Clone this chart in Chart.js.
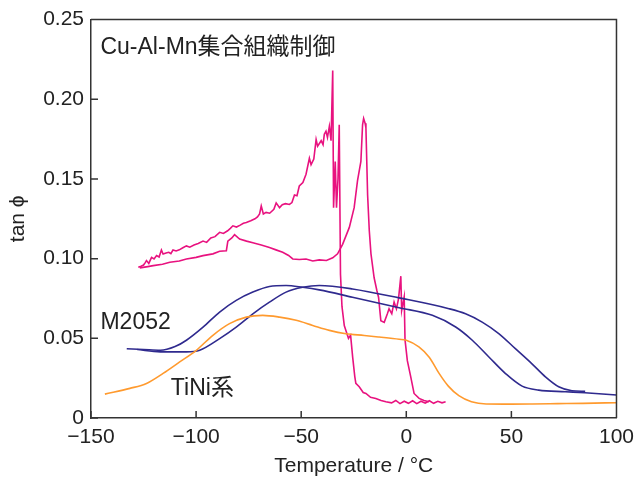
<!DOCTYPE html>
<html>
<head>
<meta charset="utf-8">
<script src="https://cdn.jsdelivr.net/npm/chart.js@4.4.1/dist/chart.umd.min.js"></script>
<style>
  body { margin: 0; background: #fff; }
  canvas { display: block; }
</style>
</head>
<body>
<canvas id="chart" width="641" height="481"></canvas>
<script>
// axes
const xTicks = [-150, -100, -50, 0, 50, 100];
const yTicks = [0, 0.05, 0.10, 0.15, 0.20, 0.25];

// TiNi系 (orange)
const tiniT = [-143.4, -131.5, -123.6, -115.7, -107.8, -99.9, -92, -84.1, -76.1, -68.3, -60.3, -52.4, -44.5, -36.6, -28.7, -20, -12.9, -3.4, 0, 6, 11, 15.6, 20, 25, 31, 38, 50, 60, 72, 84, 100];
const tiniV = [0.015, 0.0186, 0.0217, 0.028, 0.0352, 0.0425, 0.0519, 0.0592, 0.0633, 0.0644, 0.0633, 0.0613, 0.0581, 0.055, 0.0529, 0.0518, 0.0508, 0.0494, 0.0488, 0.0446, 0.038, 0.028, 0.02, 0.014, 0.0102, 0.0088, 0.0087, 0.0088, 0.009, 0.0092, 0.0096];

// M2052 (blue), two branches of the loop
const m2052aT = [-133, -125, -117, -110, -104.6, -96.7, -88.8, -80.9, -73, -65.1, -57.2, -49.3, -41.4, -25.6, -3.4, 12.4, 23.5, 31.4, 39.3, 47.2, 55.1, 63, 75.7, 85, 100];
const m2052aV = [0.0435, 0.043, 0.0425, 0.0448, 0.0488, 0.057, 0.0665, 0.0738, 0.079, 0.0825, 0.0831, 0.082, 0.0804, 0.0758, 0.0692, 0.0644, 0.0571, 0.0488, 0.0383, 0.0279, 0.02, 0.0175, 0.0165, 0.0158, 0.0144];
const m2052bT = [-128, -117, -104.6, -98.3, -88.8, -80.9, -73, -65.1, -57.2, -49.3, -41.4, -25.6, -3.4, 20.3, 28.2, 36.1, 44, 51.9, 59.8, 66.2, 72.5, 78.8, 85.1];
const m2052bV = [0.043, 0.0415, 0.0415, 0.0425, 0.0498, 0.057, 0.0654, 0.0727, 0.079, 0.082, 0.0831, 0.081, 0.0754, 0.0686, 0.0654, 0.0602, 0.053, 0.0435, 0.034, 0.0258, 0.0196, 0.0171, 0.0167];

// Cu-Al-Mn (pink), upper noisy branch
const cuUpT = [-127.5, -126.2, -125, -124.2, -123.6, -122.5, -121.2, -120, -118.8, -117.6, -116.5, -115.7, -114.3, -113, -112, -111, -109.5, -108, -106.3, -104.6, -103, -101, -99, -96.7, -95, -93, -91, -88.8, -87, -85, -83.7, -82.5, -80.8, -79, -77.5, -76.1, -74, -72, -70.8, -69.8, -69, -68, -66.7, -65, -63, -61.9, -60.3, -59, -57.5, -55.6, -54.4, -53.2, -52, -50.9, -49.2, -47.7, -46.1, -45.3, -44, -42.9, -42.2, -40.5, -39.6, -39, -38.2, -37.5, -36.6, -35.8, -35, -34.6, -33.8, -33.2, -32.5, -31.9, -31.3, -30.6, -29.5, -28.5, -27.5, -26.5, -25.5, -24.5, -24, -22.4, -20.5, -19.2, -17, -14.5, -12, -9.7, -7, -5, -3, -1, 1, 3, 5, 7, 9, 11, 13, 15, 17, 18.7];
const cuUpV = [0.0946, 0.0952, 0.096, 0.0975, 0.0988, 0.097, 0.1008, 0.0998, 0.1019, 0.101, 0.1054, 0.1029, 0.1035, 0.104, 0.1032, 0.1054, 0.1048, 0.1055, 0.1068, 0.108, 0.1072, 0.1085, 0.1095, 0.111, 0.1102, 0.113, 0.1138, 0.1165, 0.1158, 0.1175, 0.119, 0.1206, 0.1198, 0.121, 0.1222, 0.1227, 0.1238, 0.125, 0.1262, 0.128, 0.133, 0.128, 0.129, 0.1285, 0.131, 0.135, 0.132, 0.1338, 0.1345, 0.134, 0.1352, 0.14, 0.1395, 0.1456, 0.1478, 0.153, 0.163, 0.159, 0.1625, 0.1748, 0.1706, 0.174, 0.1715, 0.178, 0.18, 0.176, 0.183, 0.174, 0.218, 0.132, 0.161, 0.132, 0.15, 0.184, 0.09, 0.07, 0.058, 0.054, 0.05, 0.052, 0.038, 0.026, 0.0217, 0.0196, 0.016, 0.0154, 0.013, 0.0123, 0.011, 0.0102, 0.0095, 0.011, 0.009, 0.0105, 0.0092, 0.0108, 0.009, 0.0105, 0.0093, 0.0108, 0.0092, 0.0105, 0.0095, 0.0102];

// Cu-Al-Mn (pink), lower branch
const cuLoT = [-126.8, -123, -120.4, -116, -112.5, -108, -104.6, -100, -96.7, -92, -88.8, -85.6, -84.9, -83, -81.7, -79.3, -76, -73, -69, -65.1, -62, -58.8, -56, -54, -50.9, -47.7, -44.5, -41.4, -38, -35, -32.7, -30.3, -27.1, -24.8, -23.2, -21.6, -20.8, -20.3, -19.6, -19.2, -18.4, -17.6, -16.8, -15.3, -14, -13.2, -12.1, -10.5, -9, -8.2, -6.9, -5.8, -4.7, -3.7, -2.6, -2.2, -1, -0.6, 0.5, 2.1, 3.7, 6.1, 8.4, 10.8];
const cuLoV = [0.0942, 0.095, 0.0956, 0.0965, 0.0977, 0.0985, 0.0998, 0.1008, 0.1019, 0.103, 0.1046, 0.105, 0.111, 0.113, 0.115, 0.1123, 0.111, 0.11, 0.1085, 0.107, 0.1055, 0.104, 0.102, 0.0998, 0.0995, 0.0998, 0.0985, 0.0992, 0.0988, 0.1005, 0.103, 0.109, 0.1196, 0.132, 0.149, 0.161, 0.184, 0.188, 0.185, 0.182, 0.14, 0.1175, 0.103, 0.088, 0.08, 0.0758, 0.061, 0.06, 0.0654, 0.0685, 0.0654, 0.0727, 0.0685, 0.0748, 0.089, 0.0675, 0.076, 0.049, 0.036, 0.026, 0.0154, 0.0123, 0.011, 0.0102];

const PINK = '#e8127f';
const BLUE = '#2f2a8e';
const ORANGE = '#ff9a2e';
const FONT = '"Liberation Sans", "Noto Sans CJK JP", sans-serif';

const pts = (t, v) => t.map((x, i) => ({ x: x, y: v[i] }));

const labels = [
  { text: 'Cu-Al-Mn集合組織制御', x: -145.5, y: 0.2325 },
  { text: 'M2052', x: -145.5, y: 0.0598 },
  { text: 'TiNi系', x: -112, y: 0.0185 }
];

const frame = {
  id: 'frame',
  afterDraw(chart) {
    const ctx = chart.ctx;
    const a = chart.chartArea;
    const xs = chart.scales.x, ys = chart.scales.y;
    ctx.save();
    ctx.strokeStyle = '#333';
    ctx.lineWidth = 1.5;
    ctx.beginPath();
    ctx.moveTo(a.left, a.top); ctx.lineTo(a.right, a.top); ctx.lineTo(a.right, a.bottom);
    xTicks.forEach(v => {
      const px = xs.getPixelForValue(v);
      ctx.moveTo(px, a.bottom); ctx.lineTo(px, a.bottom - 7);
    });
    yTicks.forEach(v => {
      const py = ys.getPixelForValue(v);
      ctx.moveTo(a.left, py); ctx.lineTo(a.left + 7, py);
    });
    ctx.stroke();
    ctx.fillStyle = '#222';
    ctx.font = '23px ' + FONT;
    ctx.textBaseline = 'middle';
    labels.forEach(l => ctx.fillText(l.text, xs.getPixelForValue(l.x), ys.getPixelForValue(l.y)));
    ctx.restore();
  }
};

const line = (data, color, smooth) => ({
  data: data,
  showLine: true,
  borderColor: color,
  borderWidth: 1.6,
  pointRadius: 0,
  cubicInterpolationMode: smooth ? 'monotone' : 'default',
  tension: smooth ? 0.4 : 0
});

new Chart(document.getElementById('chart'), {
  type: 'scatter',
  data: {
    datasets: [
      line(pts(tiniT, tiniV), ORANGE, true),
      line(pts(m2052aT, m2052aV), BLUE, true),
      line(pts(m2052bT, m2052bV), BLUE, true),
      line(pts(cuLoT, cuLoV), PINK, false),
      line(pts(cuUpT, cuUpV), PINK, false)
    ]
  },
  options: {
    responsive: false,
    animation: false,
    layout: { padding: { top: 18, right: 23, left: 0, bottom: 0 } },
    plugins: { legend: { display: false }, tooltip: { enabled: false } },
    scales: {
      x: {
        type: 'linear',
        min: -150, max: 100,
        afterBuildTicks: s => { s.ticks = xTicks.map(v => ({ value: v })); },
        afterFit: s => { s.height = 63; },
        grid: { display: false, drawTicks: false },
        border: { display: true, color: '#333', width: 1.5 },
        ticks: {
          padding: 7,
          color: '#222',
          font: { family: FONT, size: 21 },
          callback: v => String(v).replace('-', '\u2212')
        },
        title: {
          display: true,
          text: 'Temperature / °C',
          color: '#222',
          font: { family: FONT, size: 21 },
          padding: { top: 0, bottom: 2 }
        }
      },
      y: {
        type: 'linear',
        min: 0, max: 0.25,
        afterBuildTicks: s => { s.ticks = yTicks.map(v => ({ value: v })); },
        afterFit: s => { s.width = 91; },
        grid: { display: false, drawTicks: false },
        border: { display: true, color: '#333', width: 1.5 },
        ticks: {
          padding: 7,
          color: '#222',
          font: { family: FONT, size: 21 },
          callback: v => v === 0 ? '0' : v.toFixed(2)
        },
        title: {
          display: true,
          text: 'tan ϕ',
          color: '#222',
          font: { family: FONT, size: 21 },
          padding: { top: 6, bottom: 0 }
        }
      }
    }
  },
  plugins: [frame]
});
</script>
</body>
</html>
